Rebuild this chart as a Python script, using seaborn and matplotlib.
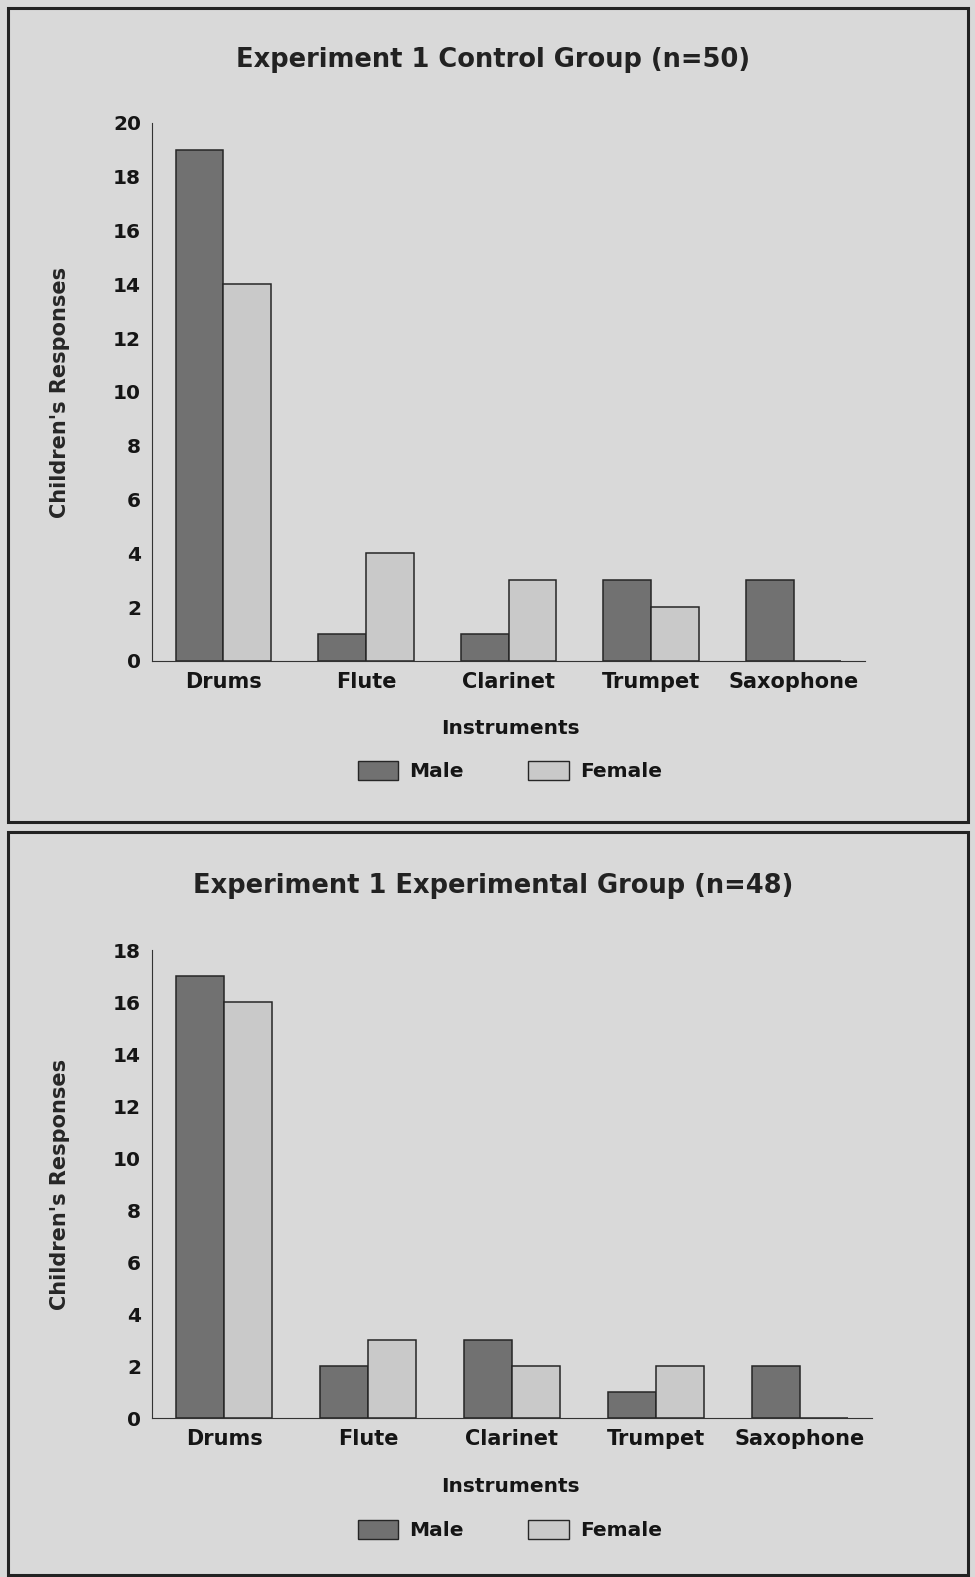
import seaborn as sns
import matplotlib
matplotlib.use('Agg')
import matplotlib.pyplot as plt
import matplotlib.patches as mpatches
import numpy as np
import pandas as pd

instruments = ['Drums', 'Flute', 'Clarinet', 'Trumpet', 'Saxophone']
control_male = [19, 1, 1, 3, 3]
control_female = [14, 4, 3, 2, 0]
exper_male = [17, 2, 3, 1, 2]
exper_female = [16, 3, 2, 2, 0]
titles = ['Experiment 1 Control Group (n=50)', 'Experiment 1 Experimental Group (n=48)']
ytops = [20, 18]

sns.set_style('white')
plt.rcParams['font.family'] = ['DejaVu Sans']
plt.rcParams['font.weight'] = 'bold'
plt.rcParams['text.color'] = '#151515'
plt.rcParams['xtick.color'] = '#151515'
plt.rcParams['ytick.color'] = '#151515'

BG = '#d9d9d9'
pal = {'Male': '#717171', 'Female': '#c9c9c9'}
EDGE = '#262626'

fig = plt.figure(figsize=(9.75, 15.77), dpi=100)
fig.patch.set_facecolor(BG)
H = 1577.0
W = 975.0

def fx(px):
    return px / W

def fy(py):
    return 1 - py / H

# panel borders
for (y0, y1) in [(8, 822), (832, 1575)]:
    fig.add_artist(mpatches.Rectangle((fx(8), fy(y1)), fx(960), (y1 - y0) / H,
                                      transform=fig.transFigure, fill=False,
                                      ec='#222222', lw=2.2))

panels = [
    (control_male, control_female, (152, 865, 123, 661), 60, 728, 771),
    (exper_male, exper_female, (152, 872, 950, 1418), 886, 1487, 1530),
]

for i, (m, f, box, ty, xly, legy) in enumerate(panels):
    left, right, top, bottom = box
    ax = fig.add_axes([fx(left), fy(bottom), fx(right - left), (bottom - top) / H])
    ax.set_facecolor(BG)
    df = pd.DataFrame({
        'Instrument': instruments * 2,
        'Responses': m + f,
        'Gender': ['Male'] * 5 + ['Female'] * 5,
    })
    sns.barplot(data=df, x='Instrument', y='Responses', hue='Gender',
                palette=pal, width=0.67, edgecolor=EDGE, linewidth=1.1,
                ax=ax, legend=False)
    ax.set_xlim(-0.5, 4.5)
    ax.set_ylim(0, ytops[i])
    ax.set_yticks(np.arange(0, ytops[i] + 1, 2))
    ax.tick_params(axis='y', direction='out', length=5, width=1, labelsize=14.5, pad=3)
    ax.set_xticks(np.arange(5))
    ax.set_xticklabels(instruments, fontsize=15, fontweight='bold')
    ax.tick_params(axis='x', which='major', length=0, pad=8)
    ax.set_xticks(np.arange(0.5, 4.5, 1), minor=True)
    ax.tick_params(axis='x', which='minor', length=6, width=1, direction='inout')
    for lab in ax.get_yticklabels():
        lab.set_fontweight('bold')
    for s in ['top', 'right']:
        ax.spines[s].set_visible(False)
    ax.spines['left'].set_color('#333333')
    ax.spines['bottom'].set_color('#333333')
    ax.set_xlabel('')
    ax.set_ylabel("Children's Responses", fontsize=15, fontweight='bold')
    ax.yaxis.set_label_coords((70 - left) / (right - left), 0.5)

    fig.text(fx(493), fy(ty), titles[i], ha='center', va='center', fontsize=18.5,
             fontweight='bold', color='#222222')
    fig.text(fx(510), fy(xly), 'Instruments', ha='center', va='center',
             fontsize=14.5, fontweight='bold')
    handles = [mpatches.Patch(facecolor=pal['Male'], edgecolor=EDGE, label='Male'),
               mpatches.Patch(facecolor=pal['Female'], edgecolor=EDGE, label='Female')]
    fig.legend(handles=handles, loc='center', bbox_to_anchor=(fx(510), fy(legy)),
               ncol=2, frameon=False, prop={'size': 14.5, 'weight': 'bold'},
               handlelength=2.0, handleheight=1.1, columnspacing=3.2, handletextpad=0.55)

plt.savefig('out.png', dpi=100, facecolor=BG)
